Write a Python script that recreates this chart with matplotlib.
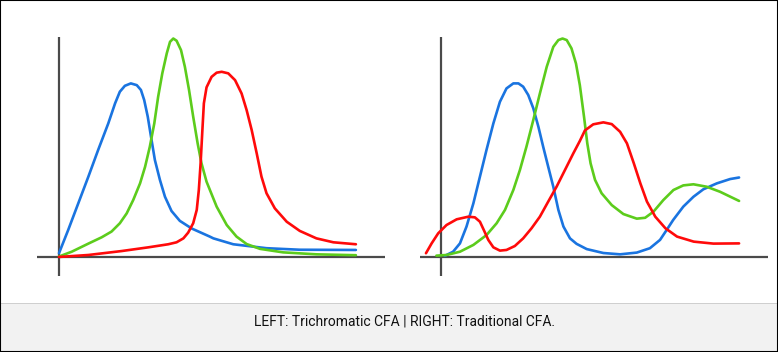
import matplotlib.pyplot as plt

# relative response curves, x = position along spectrum (0-100), y = response (0-100)

# LEFT: trichromatic CFA
left_blue_x = [0, 3.1, 6.5, 9.9, 13.2, 16.6, 18.9, 20.5, 22.2, 24.2, 26.2, 27.6, 28.7, 29.9,
               31.0, 32.3, 34.0, 35.7, 37.9, 40.7, 44.7, 50.8, 52.0, 58.7, 69.9, 81.1, 100]
left_blue_y = [1.7, 12.3, 24.5, 36.7, 48.9, 61.0, 70.2, 75.5, 78.2, 79.3, 78.5, 76.3, 71.7, 64.1,
               54.9, 44.3, 35.2, 27.5, 21.0, 16.5, 13.0, 9.3, 8.5, 5.8, 4.0, 3.3, 3.2]

left_green_x = [0, 4.3, 9.9, 14.4, 17.7, 20.5, 22.8, 25.0, 27.3, 29.0, 30.6, 32.1, 33.4, 34.8,
                36.3, 37.4, 38.5, 39.6, 41.1, 42.4, 43.8, 45.2, 46.7, 48.0, 49.7, 53.1, 56.5,
                59.8, 63.2, 67.7, 75.5, 86.7, 100]
left_green_y = [0.2, 2.4, 6.1, 9.0, 11.6, 15.4, 19.9, 26.0, 33.6, 41.2, 50.4, 61.0, 73.2, 83.9,
                93.0, 98.3, 99.8, 98.8, 94.5, 86.9, 76.3, 64.1, 51.9, 42.8, 34.4, 23.0, 14.6,
                9.3, 5.9, 3.7, 2.1, 1.2, 0.8]

left_red_x = [0, 9.9, 21.1, 30.1, 36.8, 39.6, 41.9, 43.5, 45.2, 46.4, 47.1, 47.7, 48.3, 48.8,
              49.7, 51.4, 53.1, 54.8, 57.0, 59.3, 61.5, 63.2, 64.9, 66.6, 68.2, 69.9, 72.7,
              76.7, 81.1, 86.7, 92.4, 100]
left_red_y = [0, 0.9, 2.7, 4.4, 5.8, 6.7, 8.5, 11.1, 15.4, 21.5, 30.6, 42.8, 58.0, 70.2,
              77.5, 82.3, 84.2, 84.6, 83.9, 80.8, 74.7, 67.1, 58.0, 47.3, 36.7, 29.1, 22.2,
              16.1, 11.9, 8.5, 6.7, 5.8]

# RIGHT: traditional CFA
right_blue_x = [1.3, 4.1, 6.4, 8.6, 10.9, 13.1, 15.3, 17.6, 19.8, 22.0, 24.3, 26.0, 27.6, 29.3,
                31.0, 32.7, 34.3, 36.0, 37.7, 39.4, 41.1, 43.3, 45.5, 48.9, 54.5, 60.1, 65.7,
                70.1, 73.5, 75.7, 77.9, 81.3, 84.7, 88.0, 92.5, 97.0, 100]
right_blue_y = [0.5, 2.4, 6.2, 13.9, 24.5, 36.7, 48.9, 61.0, 70.9, 77.0, 79.3, 79.3, 77.8, 74.0,
                67.9, 59.5, 50.4, 41.2, 32.1, 21.5, 13.9, 8.5, 6.0, 3.6, 1.8, 1.2, 2.0,
                4.0, 7.8, 12.3, 16.9, 23.0, 27.5, 30.9, 33.6, 35.6, 36.3]

right_green_x = [-1.5, 1.9, 6.4, 10.9, 15.3, 18.7, 21.5, 24.3, 26.5, 28.7, 31.0, 33.2, 35.5,
                 37.7, 39.4, 40.8, 42.2, 43.8, 45.3, 46.6, 48.0, 49.1, 50.2, 51.7, 53.9, 57.3,
                 61.2, 65.7, 68.5, 71.3, 74.6, 78.0, 81.3, 84.7, 89.1, 93.6, 100]
right_green_y = [0.6, 0.9, 2.4, 5.5, 10.0, 15.4, 21.5, 30.6, 39.7, 50.4, 62.6, 74.7, 86.9,
                 96.0, 99.1, 99.8, 99.1, 95.3, 88.4, 78.5, 64.1, 51.9, 42.8, 35.2, 29.1, 23.7,
                 19.6, 17.5, 17.9, 20.7, 26.0, 30.6, 32.7, 33.2, 32.1, 29.8, 25.6]

right_red_x = [-5.0, -3.1, -0.9, 1.9, 5.3, 9.2, 11.4, 13.1, 14.4, 15.9, 17.6, 19.8, 22.0, 24.8,
               27.6, 30.4, 33.2, 36.0, 38.8, 41.6, 44.4, 46.6, 48.3, 51.1, 54.5, 57.3, 60.1,
               62.4, 64.7, 66.9, 69.1, 71.9, 75.3, 79.2, 84.8, 91.4, 100]
right_red_y = [1.7, 6.2, 10.8, 14.6, 17.2, 18.4, 18.1, 16.1, 12.3, 7.8, 4.4, 2.9, 3.2, 5.0,
               8.5, 13.1, 18.4, 25.3, 32.1, 39.7, 47.3, 53.0, 57.8, 60.6, 61.5, 60.7, 57.2,
               51.9, 42.8, 33.6, 25.3, 18.4, 13.1, 9.3, 7.0, 6.1, 6.2]

caption = "LEFT: Trichromatic CFA | RIGHT: Traditional CFA."

blue = "#1a74e0"
green = "#5ccc1c"
red = "#ff0a0a"
axis_col = "#4a4a4a"

W, H = 778, 352
fig = plt.figure(figsize=(W / 100, H / 100), dpi=100)


def make_panel(left_px, xlim, curves):
    ax = fig.add_axes([left_px / W, (H - 276) / H, 348 / W, 239 / H])
    for xs, ys, c in curves:
        ax.plot(xs, ys, color=c, lw=1.9, solid_capstyle="round", solid_joinstyle="round")
    ax.axhline(0, color=axis_col, lw=1.6, zorder=0)
    ax.axvline(0, color=axis_col, lw=1.6, zorder=0)
    ax.set_xlim(*xlim)
    ax.set_ylim(-8.7, 100.5)
    ax.axis("off")
    return ax


make_panel(37, (-7.4, 109.8), [(left_blue_x, left_blue_y, blue),
                               (left_green_x, left_green_y, green),
                               (left_red_x, left_red_y, red)])
make_panel(420, (-7.0, 109.7), [(right_blue_x, right_blue_y, blue),
                                (right_green_x, right_green_y, green),
                                (right_red_x, right_red_y, red)])

# caption bar
bar = fig.add_axes([0, 0, 1, (H - 303) / H])
bar.set_xlim(0, 1)
bar.set_ylim(0, 1)
bar.axis("off")
bar.axhspan(0, 1, color="#f2f2f2")
bar.axhline(1, color="#c8c8c8", lw=1.2)
bar.text(404 / W, 0.63, caption, ha="center", va="center", fontsize=10,
         family=["Roboto", "DejaVu Sans"], color="#111111")

# outer border
border = fig.add_axes([0, 0, 1, 1], facecolor="none")
border.set_xticks([])
border.set_yticks([])
for s in border.spines.values():
    s.set_color("black")
    s.set_linewidth(1.5)

fig.savefig("out.png", dpi=100)
plt.close(fig)
